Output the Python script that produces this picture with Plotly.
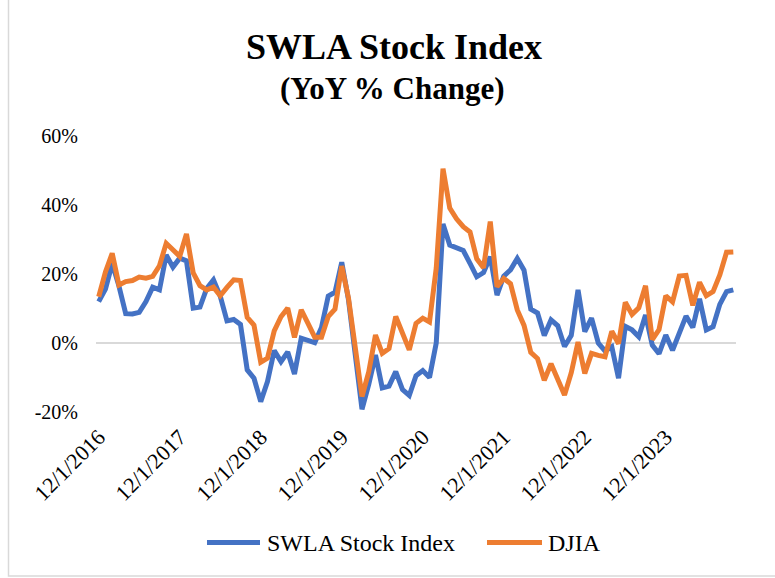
import pandas as pd
import plotly.graph_objects as go

# Monthly observations, Dec 2016 through Oct 2024
months = pd.date_range("2016-12-01", "2024-10-01", freq="MS")
month_labels = [f"{d.month}/{d.day}/{d.year}" for d in months]

# Year-over-year % change, SWLA Stock Index
swla_yoy = [
    12.0, 15.6, 23.0, 16.5, 8.5, 8.4, 8.9, 12.0, 16.2, 15.4, 25.5, 22.0,
    24.6, 23.8, 10.1, 10.4, 15.8, 18.3, 13.6, 6.4, 6.8, 5.4, -7.8, -10.2,
    -17.0, -11.2, -2.2, -5.4, -2.6, -9.0, 1.4, 0.9, 0.1, 4.5, 13.6, 14.7,
    23.4, 12.5, -3.0, -19.2, -12.0, -3.5, -13.0, -12.5, -8.3, -13.5, -15.2, -9.5,
    -8.0, -10.0, 0.0, 34.5, 28.4, 27.5, 26.8, 23.1, 19.2, 20.4, 25.0, 13.9,
    19.4, 21.2, 24.5, 21.1, 9.8, 8.7, 2.2, 6.7, 5.0, -1.0, 2.2, 15.4,
    3.3, 7.2, 0.0, -2.3, -1.1, -10.2, 4.8, 3.8, 1.8, 8.1, -0.6, -3.1,
    2.3, -2.1, 3.3, 7.8, 4.5, 12.8, 3.8, 4.7, 11.2, 14.9, 15.4,
]

# Year-over-year % change, Dow Jones Industrial Average
djia_yoy = [
    13.4, 20.6, 26.0, 16.8, 17.8, 18.1, 19.1, 18.8, 19.3, 22.4, 28.9, 26.9,
    25.1, 31.6, 20.3, 16.6, 15.4, 16.2, 13.7, 16.1, 18.3, 18.1, 7.4, 5.2,
    -5.6, -4.4, 3.5, 7.6, 10.1, 1.6, 9.6, 5.7, 1.7, 1.7, 7.7, 9.8,
    22.3, 13.0, -2.0, -15.5, -8.4, 2.3, -3.0, -1.6, 7.7, 3.2, -2.0, 5.7,
    7.2, 6.1, 21.7, 50.5, 39.1, 36.0, 33.7, 32.2, 24.4, 21.8, 35.2, 16.3,
    18.7, 17.2, 9.6, 5.1, -2.7, -4.5, -10.8, -6.0, -10.9, -15.1, -8.6, 0.3,
    -8.8, -3.0, -3.6, -4.0, 3.4, -0.2, 11.8, 8.3, 10.2, 16.6, 1.0, 3.9,
    13.7, 11.9, 19.4, 19.6, 10.9, 17.6, 13.7, 14.9, 19.7, 26.3, 26.4,
]

series_names = ["SWLA Stock Index", "DJIA"]
x_tick_labels = [lbl for lbl in month_labels if lbl.startswith("12/1/")]
y_tick_values = [-20, 0, 20, 40, 60]

SERIF = "Liberation Serif"
BLUE = "#4472C4"
ORANGE = "#ED7D31"
colors = [BLUE, ORANGE]

# Plot-area geometry in pixels (used to place title, legend and border)
W, H = 775, 578
PL, PR, PT, PB = 96, 736, 136, 412.3


def px_x(px):
    return (px - PL) / (PR - PL)


def px_y(py):
    return (PB - py) / (PB - PT)


fig = go.Figure()
for name, values, color in zip(series_names, [swla_yoy, djia_yoy], colors):
    fig.add_trace(go.Scatter(
        x=month_labels, y=values, mode="lines", name=name,
        line=dict(color=color, width=5), showlegend=False,
    ))

# Legend drawn below the axis: line swatch plus label for each series
legend_items = [(207, 260, 265), (487, 542, 546)]
legend_y = 543
shapes = []
annotations = []
for (lx0, lx1, tx), name, color in zip(legend_items, series_names, colors):
    shapes.append(dict(type="line", xref="paper", yref="paper",
                       x0=px_x(lx0), x1=px_x(lx1), y0=px_y(legend_y), y1=px_y(legend_y),
                       line=dict(color=color, width=5)))
    annotations.append(dict(text=name, xref="paper", yref="paper",
                            x=px_x(tx), y=px_y(legend_y), xanchor="left", yanchor="middle",
                            showarrow=False, font=dict(family=SERIF, size=24, color="#000000")))

annotations += [
    dict(text="<b>SWLA Stock Index</b>", xref="paper", yref="paper",
         x=px_x(394), y=px_y(47), xanchor="center", yanchor="middle",
         showarrow=False, font=dict(family=SERIF, size=36, color="#000000")),
    dict(text="<b>(YoY % Change)</b>", xref="paper", yref="paper",
         x=px_x(392), y=px_y(88), xanchor="center", yanchor="middle",
         showarrow=False, font=dict(family=SERIF, size=31, color="#000000")),
]

# Chart-area border
shapes.append(dict(type="rect", xref="paper", yref="paper",
                   x0=px_x(8.5), x1=px_x(790), y0=px_y(576.5), y1=px_y(-10),
                   line=dict(color="#D9D9D9", width=1.5), fillcolor="rgba(0,0,0,0)",
                   layer="below"))

fig.update_layout(
    width=W, height=H,
    margin=dict(l=PL, r=W - PR, t=PT, b=H - PB, autoexpand=False),
    paper_bgcolor="white", plot_bgcolor="white",
    font=dict(family=SERIF, color="#000000"),
    showlegend=False,
    annotations=annotations,
    shapes=shapes,
)

fig.update_xaxes(
    type="category", range=[-0.4, len(month_labels) - 0.6],
    tickmode="array", tickvals=x_tick_labels, ticktext=x_tick_labels,
    tickangle=-45, showgrid=False, showline=False, zeroline=False,
    ticks="", ticklabelstandoff=7,
    tickfont=dict(family=SERIF, size=22, color="#000000"),
)
fig.update_yaxes(
    range=[-20, 60], tickmode="array", tickvals=y_tick_values,
    ticktext=[f"{v}%" for v in y_tick_values],
    showgrid=False, showline=False, ticks="",
    zeroline=True, zerolinecolor="#D9D9D9", zerolinewidth=2,
    ticklabelstandoff=17,
    tickfont=dict(family=SERIF, size=20, color="#000000"),
)

fig.write_html("out.html")
